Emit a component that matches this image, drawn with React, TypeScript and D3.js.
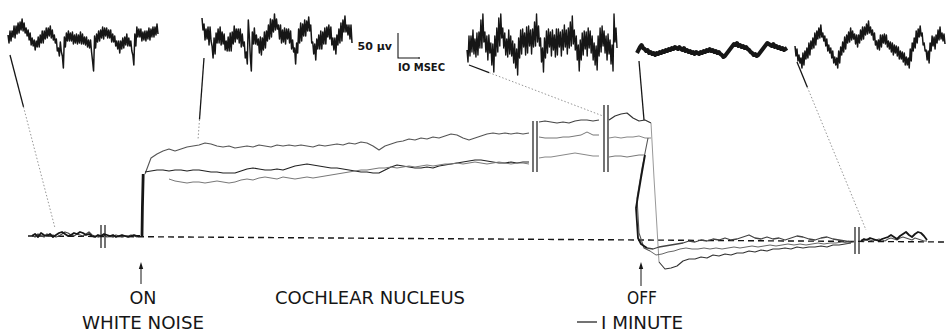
import { useEffect, useRef } from "react";
import * as d3 from "d3";

type Pt = [number, number];

// ---------- slow DC record (t = minutes, v = shift, arbitrary units, + up) ----------
const baselineT = [0, 46];
const baselineV = [2, -4];

// before noise ON (two superimposed runs)
const preA = [2, 4, 1, 5, 3, 2, 4, 1, 3, 5, 6, 4, 2, 3, 5, 4, 6, 5, 3, 4, 2, 1, 3, 2, 4, 3, 2, 3, 1, 2, 3, 2, 1, 2, 3, 2, 2];
const preB = [3, 1, 4, 2, 1, 4, 2, 3, 1, 2, 4, 6, 5, 3, 2, 4, 3, 2, 4, 6, 3, 2, 1, 2, 3, 1, 2, 1, 3, 2, 1, 2, 2, 3, 2, 1, 2];

// onset step
const onRiseT = [5.7, 5.72, 5.76];
const onRiseV = [2, 30, 64];

// during noise, first stretch (3 runs)
const topRun1 = [64, 80, 84, 87, 89, 87, 89, 91, 92, 93, 95, 94, 92, 91, 92, 90, 91, 92, 91, 93, 92, 91, 93, 92, 93, 92, 93, 92, 91, 93, 92, 93, 94, 93, 95, 94, 96, 95, 92, 88, 92, 94, 96, 97, 99, 98, 100, 99, 101, 100, 102, 104, 103, 100, 98, 100, 102, 104, 105, 104, 105, 104, 105, 104, 105];
const midRun1 = [66, 67, 68, 68, 67, 68, 68, 67, 68, 68, 67, 66, 66, 65, 65, 65, 67, 69, 70, 69, 68, 68, 69, 68, 70, 72, 73, 74, 73, 72, 71, 70, 70, 69, 68, 67, 66, 66, 65, 65, 68, 71, 73, 72, 71, 70, 70, 71, 70, 72, 73, 74, 75, 76, 77, 78, 78, 77, 76, 75, 75, 76, 75, 76, 76];
const lowRun1 = [59, 57, 56, 55, 56, 56, 55, 56, 57, 56, 55, 56, 58, 59, 58, 60, 61, 60, 59, 61, 60, 59, 60, 61, 60, 61, 62, 63, 64, 65, 66, 67, 68, 68, 69, 70, 70, 71, 70, 71, 72, 71, 72, 73, 72, 73, 74, 74, 75, 74, 75, 76, 75, 74, 75, 76, 75, 74, 75, 75, 74];

// after first break
const topRun2 = [116, 117, 116, 115, 116, 115, 117, 118, 118, 117, 118];
const midRun2 = [101, 100, 100, 100, 101, 101, 102, 103, 106, 103, 103];
const lowRun2 = [80, 81, 81, 82, 83, 84, 85, 84, 83, 82, 82];

// after second break
const topRun3 = [118, 122, 124, 125, 120, 117, 118, 115];
const midRun3 = [100, 101, 100, 101, 101, 102, 100, 100];
const lowRun3 = [81, 82, 82, 81, 82, 83, 83];

// noise OFF: fall
const topDropT = [31.15, 31.3, 31.45, 31.55];
const topDropV = [115, 60, 10, -24];
const midDropT = [31.0, 30.7, 30.45, 30.55, 30.8, 31.1];
const midDropV = [100, 70, 40, 5, -10, -13];
const lowDropT = [30.85, 30.65, 30.4, 30.5, 30.65, 30.95];
const lowDropV = [83, 60, 30, 0, -6, -10];

// recovery
const topRec = [-24, -31, -30, -28, -23, -21, -21, -19, -20, -17, -18, -16, -17, -15, -15, -13, -14, -12, -13, -11, -11, -10, -11, -9, -10, -9, -9, -8, -9, -7, -7, -6, -5];
const midRec = [-13, -17, -16, -14, -13, -11, -10, -11, -11, -10, -11, -10, -11, -10, -9, -10, -9, -8, -9, -8, -7, -8, -7, -6, -7, -6, -7, -6, -5, -6, -5, -5, -4, -5, -4];
const lowRec = [-10, -11, -9, -8, -7, -6, -5, -3, -4, -2, -3, -1, -2, 0, -2, -1, 1, 3, 0, -1, 1, -1, 0, -2, 0, 2, 1, -1, -2, 0, 1, -1, -2, -3, -4];

// after last break
const lateA = [-3, -1, -2, 0, -1, -2, -3, -1, 0, 1, 3, 1, -1, 2, 4, 6, 3, 1, 4, 6, 5, 2, -2];
const lateB = [-2, -3, -1, -2, -3, -2, -1, -2, -3, -1, 0, -1, -2, 0, 1, 0, -1, -2, 0, -1, -2, -3, -3];

// time breaks
const breakT = [3.65, 25.25, 28.8, 41.35];
const breakLo = [-10, 66, 66, -16];
const breakHi = [13, 117, 133, 11];

// stimulus markers
const onT = 5.65;
const offT = 30.65;

// ---------- fast records (µV vs ms, 75 ms each) ----------
const inset1 = [
  14, -2, 22, 2, 22, 10, 32, 8, 32, 16, 38, 18, 40, 24, 46, 22, 38, 18, 28, 12,
  24, 4, 18, -6, 8, -8, 4, -16, 2, -10, 10, -10, 14, -2, 22, -2, 22, 6, 28, 8,
  28, 12, 32, 8, 24, 4, 14, -2, 6, -18, -12, -28, 0, -20, -28, -52, 10, -10, 18, 2,
  22, 2, 18, 2, 20, -4, 14, -2, 16, -4, 14, -2, 20, -4, 16, -4, 10, -6, 10, -10,
  4, -12, 4, -20, -38, -58, 12, -12, 16, 0, 22, 2, 24, 8, 30, 6, 28, 12, 28, 8,
  24, 8, 24, 0, 16, 0, 12, -8, 2, -14, 2, -22, 2, -14, 8, -12, 10, -6, 16, -8,
  8, -8, 2, -18, -26, -46, 16, -8, 30, 10, 26, 10, 26, 2, 20, 4, 22, 2, 22, 6,
  28, 4, 26, 10, 30, 10, 30, 14, 36, 16,
];
const inset2 = [
  48, 24, 36, 4, 26, 6, 30, -6, 30, 2, -8, -32, 8, -24, 18, -2, 26, -2, 30, -6,
  20, -4, 16, -16, 2, -18, 10, -18, 18, -18, 20, -4, 32, 0, 26, 6, 26, -2, 26, -10,
  16, -8, 0, -32, -20, -44, 44, 12, -30, -58, 20, -4, 28, -4, 14, -6, 6, -22, 10, -26,
  8, -16, 20, -12, 22, 2, 34, 6, 46, 10, 44, 20, 56, 24, 46, 26, 34, 6, 34, -2,
  24, 0, 28, -4, 26, 6, 26, -2, 22, -14, 4, -20, -12, -44, -2, -22, 26, -2, 38, 2,
  36, 12, 44, 12, 42, 22, 50, 22, 34, -2, 0, -24, -4, -36, 6, -14, 14, -14, 22, -14,
  20, -4, 28, -4, 30, 10, 34, 6, 30, -6, 8, -16, 8, -24, 14, -6, 26, -2, 38, 2,
  44, 20, 52, 20, 34, 14, 34, 6, 34, -2,
];
const inset3 = [
  -4, -28, 24, -16, 24, -8, 36, -12, 18, -18, 30, -14, 32, 0, 56, 0, 68, 12, 32, -8,
  24, -24, 26, -10, 10, -34, 8, -48, 24, -16, 40, -8, 60, 4, 68, 20, 40, 0, 30, -14,
  18, -18, 36, -12, 24, -16, 14, -30, 8, -40, -2, -54, 20, -20, 36, -12, 38, 2, 30, -14,
  42, -10, 44, 4, 36, -12, 38, 2, 52, 4, 68, 12, 44, 4, 20, -28, 0, -48, 20, -20,
  34, -10, 38, 2, 32, -16, 36, -4, 26, -18, 38, -14, 38, 2, 32, -16, 36, -4, 46, 2,
  36, -12, 40, 0, 52, 4, 64, 8, 36, -4, 24, -24, 6, -46, 16, -24, 30, -14, 34, -2,
  32, -16, 40, 0, 34, -10, 24, -24, 10, -34, 4, -44, 24, -16, 40, -8, 44, 4, 34, -10,
  24, -24, 28, -12, 16, -32, 6, -46, 68, 12, 40, 0,
];
const inset4 = [-2, 4, 10, 14, 8, 6, 2, 4, -2, 0, -4, -2, -6, -2, -4, 0, -2, 2, 0, 4, 2, 6, 4, 8, 6, 10, 8, 6, 10, 6, 4, 8, 2, 4, 0, 2, -2, 0, -4, 0, -2, -4, 0, -2, 2, 0, 4, 2, 6, 2, 4, 0, 2, -2, 0, -4, -6, -10, -8, -4, 0, 4, 8, 12, 16, 14, 18, 12, 14, 10, 12, 8, 10, 6, 4, 0, -2, -6, -4, -8, -6, -2, 2, 6, 10, 14, 18, 16, 14, 12, 16, 10, 12, 8, 10, 6, 8, 4, 6, 8];
const inset5 = [
  2, -18, -4, -28, -16, -32, -22, -42, -12, -36, -8, -24, -2, -22, 8, -16, 12, -4, 18, -2,
  28, 4, 32, 16, 38, 18, 44, 20, 28, 12, 22, 2, 16, -8, 4, -12, -2, -22, -8, -32,
  -20, -36, -22, -42, -8, -32, 0, -16, 10, -10, 20, -4, 24, 8, 30, 10, 38, 14, 32, 16,
  26, 6, 24, 0, 24, 8, 34, 14, 40, 16, 40, 24, 46, 26, 52, 28, 40, 24, 34, 14,
  28, 4, 12, -4, 14, -6, 24, 0, 24, 8, 26, 6, 24, 0, 12, -4, 10, -10, 8, -16,
  4, -12, 2, -18, 0, -24, -8, -24, -10, -30, -12, -36, -20, -36, -22, -42, -4, -28, 8, -8,
  18, -2, 32, 8, 36, 20, 42, 22, 28, 4, 8, -8, -6, -26, -8, -32, 8, -8, 22, 2,
  20, -4, 24, 8, 34, 14, 40, 16, 28, 12, 26, 6,
];
const insets = [inset1, inset2, inset3, inset4, inset5];
const insetMs = 75;

// where each fast record is looked at on the slow record
const linkT = [1.35, 8.5, 28.75, 30.8, 41.9];
const linkV = [10, 98, 122, 118, 8];

// scale bar
const barUv = 50;
const barMs = 10;

// ---------- layout ----------
const W = 946;
const H = 333;
const insetLayout = [
  { x0: 8, cy: 42, dy: 13, solid: 0.3, w: 1.5 },
  { x0: 202, cy: 42, dy: 16, solid: 0.75, w: 1.5 },
  { x0: 467, cy: 48, dy: 17, solid: 0.15, w: 1.4 },
  { x0: 637, cy: 52, dy: 9, solid: 1, w: 4 },
  { x0: 795, cy: 47, dy: 15, solid: 0.15, w: 1.5 },
];
const INK = "#161616";
const FONT = "'Liberation Sans Narrow', 'DejaVu Sans Condensed', 'Roboto', sans-serif";

const seq = (t0: number, dt: number, vals: number[]): Pt[] => vals.map((v, i) => [t0 + i * dt, v]);
const zip = (ts: number[], vs: number[]): Pt[] => ts.map((t, i) => [t, vs[i]]);

export default function App() {
  const svgRef = useRef<SVGSVGElement | null>(null);

  useEffect(() => {
    const svg = d3.select(svgRef.current);
    svg.selectAll("*").remove();

    const x = d3.scaleLinear().domain([0, 46]).range([28, 948]);
    const y = d3.scaleLinear().domain([-40, 130]).range([278, 108]);
    const line = d3.line<Pt>().x(d => x(d[0])).y(d => y(d[1]));

    const g = svg.append("g");

    // baseline
    g.append("path")
      .datum(zip(baselineT, baselineV))
      .attr("d", line)
      .attr("fill", "none")
      .attr("stroke", INK)
      .attr("stroke-width", 1.4)
      .attr("stroke-dasharray", "6 4");

    const traces: { d: Pt[]; c: string; w: number }[] = [
      { d: seq(0.2, 0.15, preB), c: "#444", w: 1.3 },
      { d: seq(0.2, 0.15, preA), c: INK, w: 1.8 },
      { d: zip(onRiseT, onRiseV), c: INK, w: 2.8 },
      { d: seq(5.85, 0.3, topRun1), c: "#555", w: 1.1 },
      { d: seq(5.85, 0.3, midRun1), c: "#222", w: 1.2 },
      { d: seq(7.05, 0.3, lowRun1), c: "#777", w: 1 },
      { d: seq(25.55, 0.3, topRun2), c: "#444", w: 1.1 },
      { d: seq(25.55, 0.3, midRun2), c: "#777", w: 1 },
      { d: seq(25.55, 0.3, lowRun2), c: "#888", w: 1 },
      { d: seq(29.05, 0.3, topRun3), c: "#333", w: 1.2 },
      { d: seq(29.05, 0.3, midRun3), c: "#888", w: 1 },
      { d: seq(29.05, 0.3, lowRun3), c: "#777", w: 1 },
      { d: zip(topDropT, topDropV), c: "#999", w: 1 },
      { d: zip(midDropT, midDropV), c: "#555", w: 1.1 },
      { d: zip(lowDropT, lowDropV), c: INK, w: 1.8 },
      { d: seq(31.55, 0.3, topRec), c: "#333", w: 1.1 },
      { d: seq(31.1, 0.3, midRec), c: "#666", w: 1 },
      { d: seq(30.95, 0.3, lowRec), c: "#444", w: 1.3 },
      { d: seq(41.65, 0.15, lateB), c: "#555", w: 1.2 },
      { d: seq(41.65, 0.15, lateA), c: INK, w: 1.8 },
    ];
    traces.forEach(tr => {
      g.append("path")
        .datum(tr.d)
        .attr("d", line)
        .attr("fill", "none")
        .attr("stroke", tr.c)
        .attr("stroke-width", tr.w)
        .attr("stroke-linejoin", "round");
    });

    // break marks
    breakT.forEach((t, i) => {
      [t, t + 0.2].forEach(tt => {
        g.append("line")
          .attr("x1", x(tt)).attr("x2", x(tt))
          .attr("y1", y(breakLo[i])).attr("y2", y(breakHi[i]))
          .attr("stroke", INK).attr("stroke-width", 1.2);
      });
    });

    // stimulus arrows
    const arrow = (t: number, v0: number, v1: number) => {
      const ax = x(t);
      g.append("line").attr("x1", ax).attr("x2", ax)
        .attr("y1", y(v0) + 3).attr("y2", y(v1))
        .attr("stroke", INK).attr("stroke-width", 1);
      g.append("path")
        .attr("d", `M${ax},${y(v0)} l-2.2,7 l4.4,0 z`)
        .attr("fill", INK);
    };
    arrow(onT, -24, -46);
    arrow(offT, -24, -48);

    // fast records + links
    insets.forEach((vals, k) => {
      const L = insetLayout[k];
      const ix = d3.scaleLinear().domain([0, insetMs]).range([L.x0, L.x0 + 150]);
      const iy = d3.scaleLinear().domain([-100, 100]).range([L.cy + 50, L.cy - 50]);
      const step = insetMs / (vals.length - 1);
      const il = d3.line<number>().x((_, i) => ix(i * step)).y(v => iy(v));
      g.append("path")
        .datum(vals)
        .attr("d", il)
        .attr("fill", "none")
        .attr("stroke", INK)
        .attr("stroke-width", L.w)
        .attr("stroke-linejoin", "round");

      const sx = ix(0) + 2;
      const sy = L.cy + L.dy;
      const ex = x(linkT[k]);
      const ey = y(linkV[k]);
      const mx = sx + (ex - sx) * L.solid;
      const my = sy + (ey - sy) * L.solid;
      g.append("line")
        .attr("x1", sx).attr("y1", sy).attr("x2", mx).attr("y2", my)
        .attr("stroke", INK).attr("stroke-width", 1.3);
      if (L.solid < 1) {
        g.append("line")
          .attr("x1", mx).attr("y1", my).attr("x2", ex).attr("y2", ey)
          .attr("stroke", "#8a8a8a").attr("stroke-width", 0.9)
          .attr("stroke-dasharray", "1.5 2");
      }
    });

    // scale bar (same scales as fast records)
    const bx = 398;
    const by = 58;
    const bsx = d3.scaleLinear().domain([0, insetMs]).range([0, 150]);
    const bsy = d3.scaleLinear().domain([0, 100]).range([0, 50]);
    g.append("path")
      .attr("d", `M${bx},${by - bsy(barUv)} L${bx},${by} L${bx + bsx(barMs)},${by}`)
      .attr("fill", "none").attr("stroke", INK).attr("stroke-width", 1.1);
    g.append("circle").attr("cx", bx + bsx(barMs) + 1).attr("cy", by).attr("r", 0.9).attr("fill", INK);
    g.append("text").attr("x", 392).attr("y", 50).attr("text-anchor", "end")
      .attr("font-family", "'DejaVu Sans', sans-serif").attr("font-weight", "bold")
      .attr("font-size", 11).attr("fill", INK).text("50 μv");
    g.append("text").attr("x", 398).attr("y", 71)
      .attr("font-family", "'DejaVu Sans', sans-serif").attr("font-weight", "bold")
      .attr("font-size", 10).attr("fill", INK).text("IO MSEC");

    // labels
    const label = (txt: string, cx: number, by2: number, len: number, anchor = "middle") => {
      g.append("text")
        .attr("x", cx).attr("y", by2)
        .attr("text-anchor", anchor)
        .attr("font-family", FONT)
        .attr("font-size", 18)
        .attr("fill", INK)
        .attr("textLength", len)
        .attr("lengthAdjust", "spacingAndGlyphs")
        .text(txt);
    };
    label("ON", x(onT) + 2, 304, 27);
    label("WHITE NOISE", x(onT) + 2, 329, 122);
    label("COCHLEAR NUCLEUS", 370, 304, 190);
    label("OFF", x(offT) + 1, 304, 30);
    label("I MINUTE", 601, 329, 82, "start");
    // one-minute bar
    g.append("line")
      .attr("x1", 597 - (x(1) - x(0))).attr("x2", 597)
      .attr("y1", 322).attr("y2", 322)
      .attr("stroke", INK).attr("stroke-width", 1.2);
  }, []);

  return (
    <svg
      ref={svgRef}
      width={W}
      height={H}
      viewBox={`0 0 ${W} ${H}`}
      style={{ position: "absolute", left: 0, top: 0, background: "#fff", display: "block" }}
    />
  );
}
